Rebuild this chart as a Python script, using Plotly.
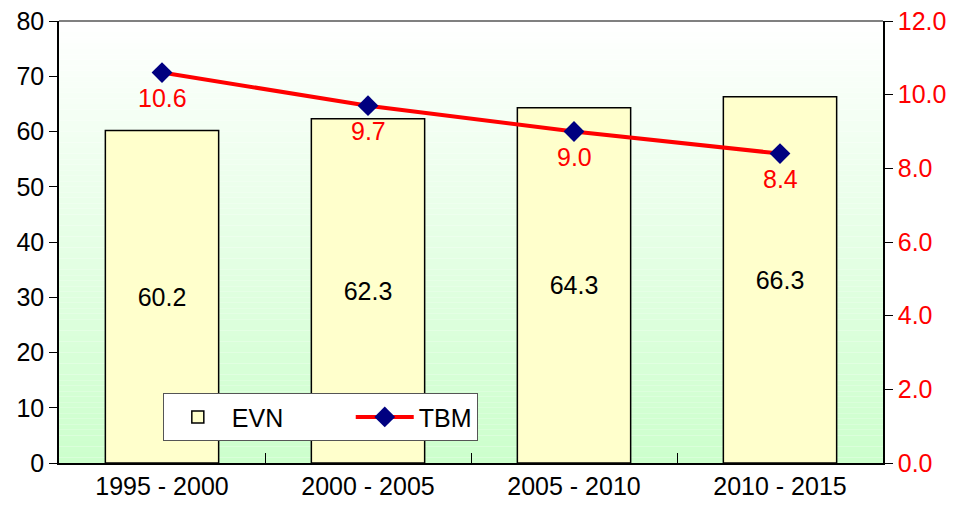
import plotly.graph_objects as go

# data
periods = ["1995 - 2000", "2000 - 2005", "2005 - 2010", "2010 - 2015"]
evn = [60.2, 62.3, 64.3, 66.3]
tbm = [10.6, 9.7, 9.0, 8.4]

font_family = "Liberation Sans, Arial, sans-serif"
fs = 25

fig = go.Figure()

fig.add_trace(go.Bar(
    x=periods, y=evn, name="EVN" + "\u00a0" * 9,
    marker=dict(color="#ffffcc", line=dict(color="black", width=1.5)),
    width=0.55,
    text=[f"{v:.1f}" for v in evn],
    textposition="inside", insidetextanchor="middle",
    textfont=dict(size=fs, color="black", family=font_family),
))

fig.add_trace(go.Scatter(
    x=periods, y=tbm, name="TBM", yaxis="y2",
    mode="lines+markers",
    line=dict(color="red", width=4),
    marker=dict(symbol="diamond", size=16, color="#000080"),
))

# red value labels under the markers
for p, v in zip(periods, tbm):
    fig.add_annotation(x=p, y=v, xref="x", yref="y2", text=f"{v:.1f}",
                       showarrow=False, yshift=-25,
                       font=dict(size=fs, color="red", family=font_family))

# background gradient (white at top -> light green at bottom)
n = 80
shapes = []
for i in range(n):
    t = (i + 0.5) / n
    g = int(round(255 - (255 - 204) * t))
    shapes.append(dict(
        type="rect", xref="x domain", yref="y domain",
        x0=0, x1=1, y0=1 - (i + 1) / n, y1=1 - i / n,
        fillcolor=f"rgb({g},255,{g})", line=dict(width=0), layer="below",
    ))
# grey top border
shapes.append(dict(type="line", xref="x domain", yref="y domain",
                   x0=0, x1=1, y0=1, y1=1, line=dict(color="#808080", width=2)))

fig.update_layout(
    width=956, height=516,
    margin=dict(l=51, r=81, t=13, b=61),
    paper_bgcolor="white", plot_bgcolor="white",
    font=dict(family=font_family, size=fs, color="black"),
    shapes=shapes,
    showlegend=True,
    legend=dict(
        orientation="h", x=0.126, y=0.158, xanchor="left", yanchor="top",
        bgcolor="white", bordercolor="#555555", borderwidth=1,
        font=dict(size=fs), itemwidth=58,
    ),
    xaxis=dict(
        automargin=False,
        showline=True, linecolor="black", linewidth=1.5,
        ticks="inside", tickson="boundaries", ticklen=10, tickcolor="black",
        showgrid=False, tickfont=dict(size=fs),
    ),
    yaxis=dict(
        automargin=False, ticklabeloverflow="allow",
        range=[0, 80], dtick=10, showgrid=False, zeroline=False,
        showline=True, linecolor="black", linewidth=1.5,
        ticks="outside", ticklen=8, tickcolor="black",
        tickfont=dict(size=fs, color="black"),
    ),
    yaxis2=dict(
        automargin=False, ticklabeloverflow="allow",
        range=[0, 12], dtick=2, tickformat=".1f", overlaying="y", side="right",
        showgrid=False, zeroline=False,
        showline=True, linecolor="black", linewidth=1.5,
        ticks="outside", ticklen=8, tickcolor="black",
        tickfont=dict(size=fs, color="red"),
    ),
)

fig.write_html("out.html")
